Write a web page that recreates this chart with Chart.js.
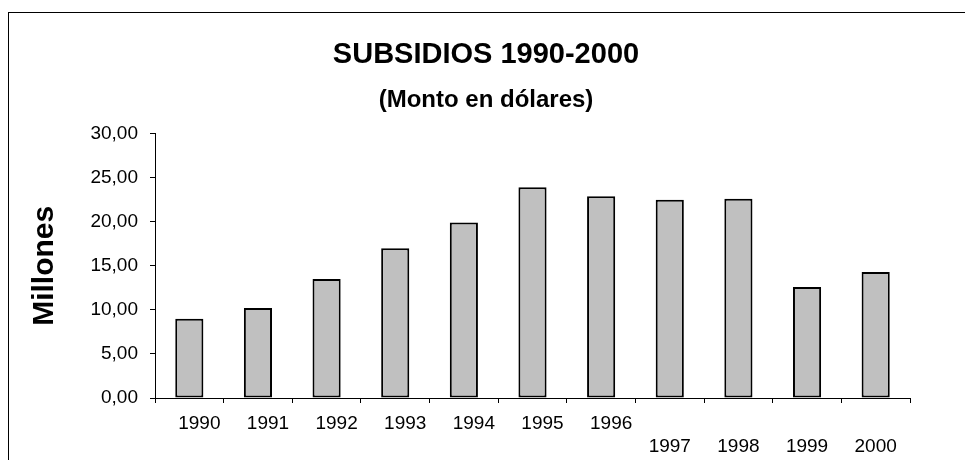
<!DOCTYPE html>
<html>
<head>
<meta charset="utf-8">
<script src="https://cdn.jsdelivr.net/npm/chart.js@4/dist/chart.umd.min.js"></script>
<style>
    html, body { margin: 0; padding: 0; background: #fff; overflow: hidden; }
    #frame { position: absolute; left: 8px; top: 12px; width: 2000px; height: 2000px; border: 1px solid #000; }
    #wrap { position: absolute; left: 0; top: 0; width: 965px; height: 460px; }
</style>
</head>
<body>
<div id="frame"></div>
<div id="wrap"><canvas id="barChart"></canvas></div>
<script>
// Data
const years = ['1990', '1991', '1992', '1993', '1994', '1995', '1996', '1997', '1998', '1999', '2000'];
const subsidios = [9.0, 10.2, 13.5, 17.0, 19.9, 23.9, 22.9, 22.5, 22.6, 12.6, 14.3];
const lowerRowStart = 7;          // from 1997 on the labels sit on a second line
const yTickMin = 0;
const yTickMax = 30;
const yTickStep = 5;

const fontFamily = '"Liberation Sans", Arial, sans-serif';

// draws the staggered year labels under the x axis
const yearLabels = {
    id: 'yearLabels',
    afterDraw(chart) {
        const ctx = chart.ctx;
        const xScale = chart.scales.x;
        const bottom = chart.chartArea.bottom;
        ctx.save();
        ctx.font = '19px ' + fontFamily;
        ctx.fillStyle = '#000';
        ctx.textAlign = 'center';
        ctx.textBaseline = 'middle';
        years.forEach((year, i) => {
            const lower = i >= lowerRowStart;
            const x = xScale.getPixelForValue(i) + (lower ? 0 : 10);
            const y = bottom + (lower ? 49 : 26);
            ctx.fillText(year, x, y);
        });
        ctx.restore();
    }
};

const barChart = document.getElementById('barChart');

new Chart(barChart, {
    type: 'bar',
    data: {
        labels: years,
        datasets: [{
            label: 'Subsidios',
            data: subsidios,
            backgroundColor: '#c0c0c0',
            borderColor: '#000',
            borderWidth: 2,
            borderSkipped: false,
            barPercentage: 0.41,
            categoryPercentage: 1
        }]
    },
    options: {
        responsive: true,
        maintainAspectRatio: false,
        animation: false,
        layout: {
            padding: { left: 7, right: 0, top: 0, bottom: 0 }
        },
        scales: {
            x: {
                ticks: { display: false },
                grid: {
                    offset: true,
                    drawOnChartArea: false,
                    drawTicks: true,
                    tickLength: 5,
                    color: '#000'
                },
                border: { color: '#000', width: 1 },
                afterFit(scale) { scale.height = 62; }
            },
            y: {
                min: yTickMin,
                max: yTickMax,
                ticks: {
                    stepSize: yTickStep,
                    padding: 12,
                    color: '#000',
                    font: { family: fontFamily, size: 19 },
                    callback: value => value.toFixed(2).replace('.', ',')
                },
                grid: {
                    drawOnChartArea: false,
                    drawTicks: true,
                    tickLength: 5,
                    color: '#000'
                },
                border: { color: '#000', width: 1 },
                title: {
                    display: true,
                    text: 'Millones',
                    color: '#000',
                    font: { family: fontFamily, size: 30, weight: 'bold' },
                    padding: { top: 20, bottom: 0 }
                },
                afterFit(scale) { scale.width = 148; }
            },
            // empty axis that only keeps the white space on the right
            yRight: {
                position: 'right',
                ticks: { display: false },
                grid: { display: false, drawTicks: false },
                border: { display: false },
                afterFit(scale) { scale.width = 55; }
            }
        },
        plugins: {
            legend: { display: false },
            tooltip: { enabled: false },
            title: {
                display: true,
                text: 'SUBSIDIOS 1990-2000',
                color: '#000',
                font: { family: fontFamily, size: 29, weight: 'bold' },
                padding: { top: 38, bottom: 13 }
            },
            subtitle: {
                display: true,
                text: '(Monto en dólares)',
                color: '#000',
                font: { family: fontFamily, size: 24, weight: 'bold' },
                padding: { top: 0, bottom: 19 }
            }
        }
    },
    plugins: [yearLabels]
});
</script>
</body>
</html>
